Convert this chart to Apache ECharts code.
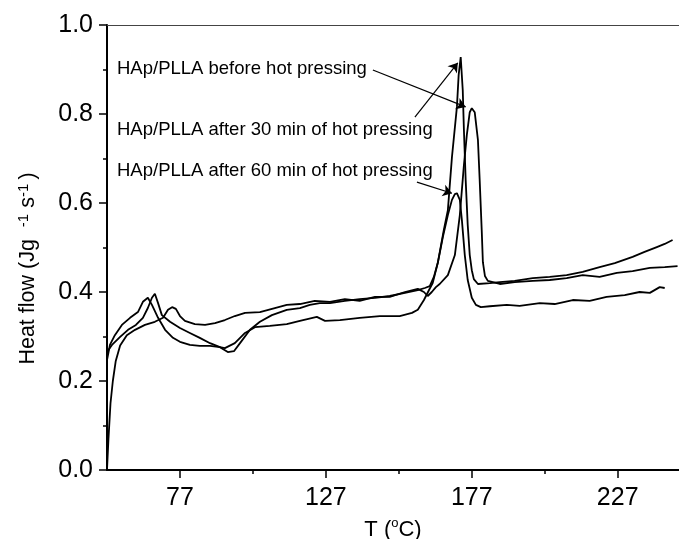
<!DOCTYPE html>
<html>
<head>
<meta charset="utf-8">
<script src="https://cdn.jsdelivr.net/npm/echarts@6/dist/echarts.min.js"></script>
<style>
html,body{margin:0;padding:0;background:#fff;}
#chart{width:679px;height:539px;}
</style>
</head>
<body>
<div id="chart"></div>
<script>
// ---------- data ----------
const xMajorTicks = [77, 127, 177, 227];
const xMinorTicks = [102, 152, 202];

// HAp/PLLA before hot pressing
const tBefore = [52, 52.5, 53.2, 54, 55, 56.5, 58.8, 61.6, 65, 68.4, 71.2, 72.9, 74.3, 75.6, 77, 78.7, 82.1, 85.6, 89, 92.4, 95.8, 99.3, 104.4, 109.5, 113.6, 118.1, 123.2, 128.4, 133.5, 138.6, 143.8, 148.9, 154.1, 158.5, 160.6, 161.9, 163.3, 164.7, 166, 168.8, 171.2, 172.9, 174.3, 175.3, 176.3, 177, 178, 179.1, 179.7, 180.4, 180.8, 181.5, 182.5, 186.6, 191.7, 197.9, 203.7, 209.5, 215, 220.8, 226.7, 232.1, 238, 243.1, 247.5];
const hfBefore = [0, 0.07, 0.15, 0.2, 0.245, 0.28, 0.303, 0.315, 0.326, 0.333, 0.342, 0.36, 0.366, 0.362, 0.346, 0.335, 0.328, 0.326, 0.33, 0.337, 0.346, 0.353, 0.355, 0.364, 0.371, 0.373, 0.38, 0.378, 0.384, 0.38, 0.389, 0.389, 0.4, 0.407, 0.4, 0.391, 0.4, 0.411, 0.418, 0.438, 0.483, 0.573, 0.685, 0.753, 0.804, 0.813, 0.804, 0.742, 0.652, 0.539, 0.467, 0.436, 0.425, 0.418, 0.422, 0.425, 0.427, 0.431, 0.438, 0.434, 0.443, 0.447, 0.454, 0.456, 0.458];

// HAp/PLLA after 30 min of hot pressing
const t30 = [52, 53.7, 56.5, 59.2, 61.9, 64.3, 66, 67.4, 68.4, 69.5, 70.8, 73.6, 77, 80.4, 83.8, 87.3, 90.7, 93.4, 95.5, 97.9, 101, 104.4, 108.5, 113.6, 118.1, 121.5, 124.9, 128.4, 133.5, 138.6, 143.8, 148.9, 154.1, 158.5, 160.9, 162.6, 164, 165.4, 167.4, 168.8, 170.2, 171.9, 172.5, 173.2, 173.9, 174.3, 174.9, 175.6, 176.3, 177, 177.7, 179.1, 183.2, 186.6, 191.7, 197.9, 203.7, 209.5, 215, 220.8, 226, 232.1, 236.2, 240.4, 243.1, 245.8];
const hf30 = [0.265, 0.281, 0.299, 0.315, 0.326, 0.342, 0.364, 0.387, 0.396, 0.375, 0.348, 0.333, 0.319, 0.308, 0.297, 0.285, 0.276, 0.265, 0.267, 0.288, 0.315, 0.333, 0.348, 0.36, 0.364, 0.371, 0.375, 0.375, 0.38, 0.384, 0.387, 0.391, 0.398, 0.404, 0.409, 0.413, 0.434, 0.467, 0.539, 0.584, 0.703, 0.816, 0.888, 0.928, 0.854, 0.764, 0.652, 0.551, 0.483, 0.449, 0.429, 0.418, 0.42, 0.422, 0.425, 0.431, 0.434, 0.438, 0.445, 0.456, 0.465, 0.479, 0.49, 0.501, 0.508, 0.517];

// HAp/PLLA after 60 min of hot pressing
const t60 = [52, 53, 54.7, 57.1, 59.9, 62.6, 64.3, 66, 67.4, 69.5, 71.9, 74.6, 77, 80.4, 83.8, 87.3, 90.7, 92.4, 95.8, 99.3, 102.7, 107.8, 113.6, 118.1, 123.9, 126.7, 131.8, 138.6, 145.5, 152.3, 156.5, 158.5, 160.6, 162.3, 163.6, 165.4, 167.1, 168.8, 170.2, 171.2, 171.9, 172.9, 173.6, 174.6, 175.6, 177, 178.4, 180.1, 183.2, 189, 193.4, 200.3, 205.4, 211.6, 217.4, 223.2, 229.4, 234.5, 238, 241.4, 243.1];
const hf60 = [0.247, 0.281, 0.303, 0.326, 0.342, 0.355, 0.378, 0.387, 0.371, 0.342, 0.315, 0.297, 0.288, 0.281, 0.279, 0.279, 0.276, 0.274, 0.285, 0.308, 0.321, 0.324, 0.328, 0.335, 0.344, 0.335, 0.337, 0.342, 0.346, 0.346, 0.353, 0.36, 0.382, 0.404, 0.42, 0.467, 0.524, 0.573, 0.607, 0.62, 0.622, 0.607, 0.562, 0.483, 0.427, 0.387, 0.371, 0.366, 0.368, 0.371, 0.369, 0.375, 0.373, 0.382, 0.38, 0.389, 0.393, 0.4, 0.398, 0.411, 0.409];

// annotation labels and arrows (start point near the label -> point on the curve), in data units
const labelBefore = 'HAp/PLLA before hot pressing';
const label30 = 'HAp/PLLA after 30 min of hot pressing';
const label60 = 'HAp/PLLA after 60 min of hot pressing';
const arrowBefore = [[143.1, 0.899], [174.9, 0.816]];
const arrow30 = [[157.5, 0.793], [172.2, 0.915]];
const arrow60 = [[158.2, 0.647], [170.2, 0.622]];

// ---------- chart ----------
const FONT = '"Liberation Sans", Arial, Helvetica, sans-serif';
const pairs = (t, v) => t.map((x, i) => [x, v[i]]);
const arrowLine = a => [{ coord: a[0] }, { coord: a[1] }];
const curveStyle = { color: '#000', width: 1.8 };

function curve(name, t, v, extra) {
  return Object.assign({
    name: name,
    type: 'line',
    xAxisIndex: 0,
    yAxisIndex: 0,
    data: pairs(t, v),
    showSymbol: false,
    symbol: 'none',
    smooth: false,
    lineStyle: curveStyle,
    emphasis: { disabled: true },
    silent: true
  }, extra || {});
}

const chart = echarts.init(document.getElementById('chart'), null, { renderer: 'canvas' });

const option = {
  animation: false,
  backgroundColor: '#fff',
  textStyle: { fontFamily: FONT, color: '#000' },
  grid: { left: 107, right: 0, top: 25, bottom: 69, containLabel: false, outerBoundsMode: 'none' },
  xAxis: [
    {
      type: 'value', min: 52, max: 248, position: 'bottom',
      name: '{m|T (}{s|o}{m|C)}',
      nameLocation: 'middle', nameGap: 47,
      nameTextStyle: {
        rich: {
          m: { fontSize: 22, fontFamily: FONT, color: '#000', lineHeight: 25 },
          s: { fontSize: 13, fontFamily: FONT, color: '#000', verticalAlign: 'top', lineHeight: 12 }
        }
      },
      axisLine: { show: true, onZero: false, lineStyle: { color: '#000', width: 2 } },
      axisTick: { show: true, customValues: xMajorTicks, length: 8, inside: false, lineStyle: { color: '#000', width: 1.5 } },
      axisLabel: { show: true, customValues: xMajorTicks, fontSize: 25, fontFamily: FONT, color: '#000', margin: 16 },
      splitLine: { show: false }
    },
    {
      type: 'value', min: 52, max: 248, position: 'bottom',
      axisLine: { show: false },
      axisTick: { show: true, customValues: xMinorTicks, length: 4, inside: false, lineStyle: { color: '#000', width: 1.5 } },
      axisLabel: { show: false },
      splitLine: { show: false }
    },
    {
      type: 'value', min: 52, max: 248, position: 'top',
      axisLine: { show: true, onZero: false, lineStyle: { color: '#444', width: 1 } },
      axisTick: { show: false },
      axisLabel: { show: false },
      splitLine: { show: false }
    }
  ],
  yAxis: {
    type: 'value', min: 0, max: 1, interval: 0.2,
    name: '{m|Heat flow (Jg  }{s|-1}{m| s}{s|-1 }{m|)}',
    nameLocation: 'middle', nameRotate: 90, nameGap: 66,
    nameTextStyle: {
      padding: [0, 42, 0, 0],
      rich: {
        m: { fontSize: 21.5, fontFamily: FONT, color: '#000', lineHeight: 25 },
        s: { fontSize: 15, fontFamily: FONT, color: '#000', verticalAlign: 'top', lineHeight: 13 }
      }
    },
    axisLine: { show: true, onZero: false, lineStyle: { color: '#000', width: 2 } },
    axisTick: { show: true, length: 8, inside: false, lineStyle: { color: '#000', width: 1.5 } },
    minorTick: { show: true, splitNumber: 2, length: 4, lineStyle: { color: '#000', width: 1.5 } },
    axisLabel: { fontSize: 25, fontFamily: FONT, color: '#000', margin: 14, formatter: v => v.toFixed(1) },
    splitLine: { show: false },
    minorSplitLine: { show: false }
  },
  graphic: [
    { type: 'text', x: 117, y: 69, silent: true, style: { text: labelBefore, fontSize: 18.5, fontFamily: FONT, fill: '#000', verticalAlign: 'middle', align: 'left' } },
    { type: 'text', x: 117, y: 130, silent: true, style: { text: label30, fontSize: 18.5, fontFamily: FONT, fill: '#000', verticalAlign: 'middle', align: 'left' } },
    { type: 'text', x: 117, y: 171, silent: true, style: { text: label60, fontSize: 18.5, fontFamily: FONT, fill: '#000', verticalAlign: 'middle', align: 'left' } }
  ],
  series: [
    curve(labelBefore, tBefore, hfBefore, {
      markLine: {
        silent: true,
        symbol: ['none', 'arrow'],
        symbolSize: 9,
        label: { show: false },
        lineStyle: { color: '#000', width: 1.2, type: 'solid' },
        emphasis: { disabled: true },
        data: [arrowLine(arrowBefore), arrowLine(arrow30), arrowLine(arrow60)]
      }
    }),
    curve(label30, t30, hf30),
    curve(label60, t60, hf60)
  ]
};

chart.setOption(option);
</script>
</body>
</html>
